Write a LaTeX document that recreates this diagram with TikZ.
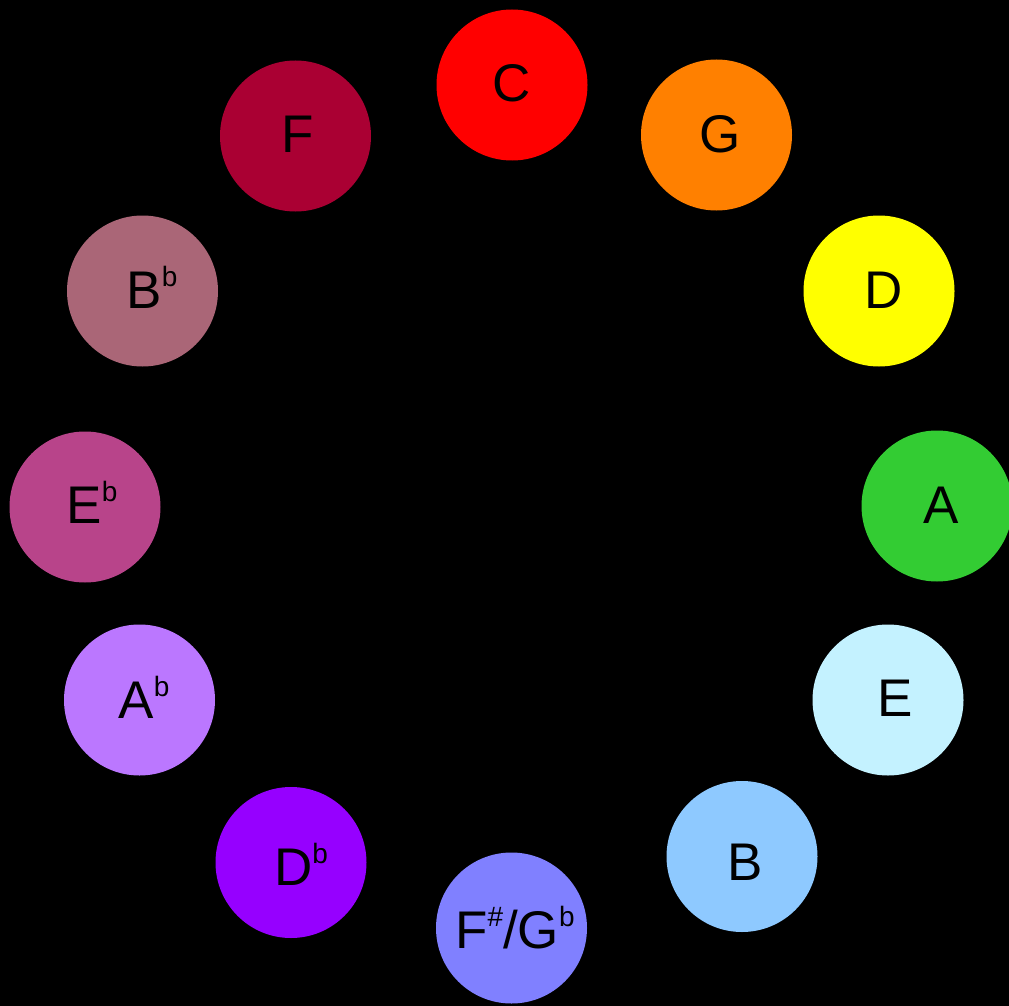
\documentclass[tikz,border=0pt]{standalone}
\usepackage{fontspec}
\setmainfont{Liberation Sans}
\newcommand\flatsup[1]{\raisebox{0.4em}{\fontsize{28}{30}\selectfont #1}}
\definecolor{cC}{HTML}{FF0000}
\definecolor{cG}{HTML}{FF8000}
\definecolor{cD}{HTML}{FFFF00}
\definecolor{cA}{HTML}{33CC33}
\definecolor{cE}{HTML}{C4F2FF}
\definecolor{cB}{HTML}{8EC9FF}
\definecolor{cFs}{HTML}{8080FF}
\definecolor{cDb}{HTML}{9600FF}
\definecolor{cAb}{HTML}{BB77FF}
\definecolor{cEb}{HTML}{B8448A}
\definecolor{cBb}{HTML}{AA6677}
\definecolor{cF}{HTML}{AA0033}
\tikzset{
  keydisc/.style={circle, fill=#1, draw=none, minimum size=151pt, inner sep=0pt},
  keyname/.style={anchor=base, inner sep=0pt, text=black, font=\fontsize{53}{60}\selectfont}
}
\begin{document}
\begin{tikzpicture}[x=1pt,y=-1pt]
\fill[black] (0,0) rectangle (1009,1006);
\useasboundingbox (0,0) rectangle (1009,1006);
\node[keydisc=cC]  (C)  at (512,85) {};
\node[keydisc=cG]  (G)  at (716.5,135) {};
\node[keydisc=cD]  (D)  at (879,291) {};
\node[keydisc=cA]  (A)  at (937,506) {};
\node[keydisc=cE]  (E)  at (888,700) {};
\node[keydisc=cB]  (B)  at (742,856.5) {};
\node[keydisc=cFs] (Fs) at (511.5,928) {};
\node[keydisc=cDb] (Db) at (291,862.5) {};
\node[keydisc=cAb] (Ab) at (139.5,700) {};
\node[keydisc=cEb] (Eb) at (85,507) {};
\node[keydisc=cBb] (Bb) at (142.5,291) {};
\node[keydisc=cF]  (F)  at (295.5,136) {};
\node[keyname] (tC)  at (512,102) {C};
\node[keyname] (tG)  at (720,153) {G};
\node[keyname] (tD)  at (884,308) {D};
\node[keyname] (tA)  at (941,523) {A};
\node[keyname] (tE)  at (895,716) {E};
\node[keyname] (tB)  at (745,880) {B};
\node[keyname] (tFs) at (515,948) {F\flatsup{\#}/G\flatsup{b}};
\node[keyname] (tDb) at (301,885) {D\flatsup{b}};
\node[keyname] (tAb) at (144,718) {A\flatsup{b}};
\node[keyname] (tEb) at (92,523) {E\flatsup{b}};
\node[keyname] (tBb) at (152,308) {B\flatsup{b}};
\node[keyname] (tF)  at (298,153) {F};
\end{tikzpicture}
\end{document}
